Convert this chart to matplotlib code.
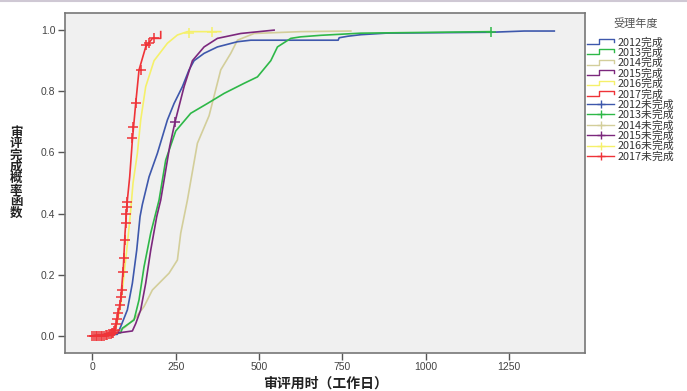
import matplotlib
matplotlib.use("Agg")
import matplotlib.pyplot as plt
from matplotlib.lines import Line2D
from matplotlib.legend_handler import HandlerBase

plt.rcParams['font.family'] = ['Noto Sans CJK SC', 'DejaVu Sans']

# ---- data ----
years = ["2012", "2013", "2014", "2015", "2016", "2017"]
colors = ["#3e58ac", "#2eb848", "#d3ce9a", "#7c287d", "#f5f06a", "#ef3338"]

x2012 = [0, 75, 85, 105, 120, 133, 143, 150, 170, 195, 225, 245, 270, 290, 305, 335, 375, 435, 475, 737, 740, 766, 805, 880, 1196, 1295, 1385]
y2012 = [0, 0.005, 0.03, 0.085, 0.172, 0.28, 0.39, 0.43, 0.52, 0.597, 0.706, 0.76, 0.815, 0.87, 0.90, 0.924, 0.945, 0.962, 0.967, 0.967, 0.975, 0.98, 0.985, 0.99, 0.993, 0.997, 0.997]

x2013 = [0, 85, 90, 125, 140, 155, 175, 200, 220, 250, 295, 345, 395, 455, 495, 535, 555, 595, 625, 685, 805, 1194]
y2013 = [0, 0.01, 0.025, 0.052, 0.118, 0.226, 0.336, 0.444, 0.575, 0.67, 0.728, 0.76, 0.793, 0.826, 0.847, 0.90, 0.945, 0.973, 0.978, 0.983, 0.99, 0.995]

x2014 = [0, 60, 100, 130, 155, 180, 230, 255, 265, 285, 315, 350, 385, 415, 435, 485, 625, 775]
y2014 = [0, 0.0, 0.03, 0.06, 0.096, 0.15, 0.205, 0.248, 0.336, 0.444, 0.63, 0.72, 0.87, 0.924, 0.967, 0.989, 0.995, 0.997]

x2015 = [0, 80, 120, 130, 145, 160, 175, 193, 205, 232, 248, 275, 300, 335, 375, 445, 545]
y2015 = [0, 0.01, 0.016, 0.04, 0.085, 0.172, 0.28, 0.39, 0.444, 0.62, 0.70, 0.815, 0.90, 0.945, 0.973, 0.989, 1.0]

x2016 = [0, 60, 72, 85, 95, 105, 115, 122, 135, 145, 160, 185, 225, 255, 285, 385]
y2016 = [0, 0.003, 0.03, 0.10, 0.20, 0.30, 0.41, 0.50, 0.597, 0.706, 0.815, 0.90, 0.957, 0.984, 0.995, 0.995]

x2017 = [-5, 60, 70, 85, 93, 98, 105, 112, 120, 130, 140, 160, 180, 205, 205]
y2017 = [0, 0.003, 0.03, 0.118, 0.226, 0.336, 0.444, 0.52, 0.64, 0.76, 0.87, 0.945, 0.973, 0.973, 0.995]

# censored observations (未完成)
cx2013 = [1194]
cy2013 = [0.995]
cx2015 = [248]
cy2015 = [0.70]
cx2016 = [290, 360]
cy2016 = [0.992, 0.995]
cx2017 = [0, 5, 10, 15, 20, 25, 30, 35, 40, 45, 50, 55, 60, 63, 66, 68, 72, 75, 78, 82, 86, 88, 92, 94, 97, 100, 102, 104, 105, 120, 123, 130, 145, 160, 170, 185]
cy2017 = [0, 0, 0, 0, 0, 0, 0, 0, 0.003, 0.003, 0.005, 0.005, 0.008, 0.01, 0.015, 0.02, 0.04, 0.055, 0.074, 0.1, 0.128, 0.15, 0.21, 0.254, 0.314, 0.368, 0.40, 0.42, 0.439, 0.646, 0.684, 0.76, 0.87, 0.95, 0.958, 0.975]

xticks = [0, 250, 500, 750, 1000, 1250]
yticks = [0.0, 0.2, 0.4, 0.6, 0.8, 1.0]

title_legend = "受理年度"
xlabel = "审评用时（工作日）"
ylabel = "审评完成概率函数"

# ---- figure ----
fig = plt.figure(figsize=(6.87, 3.91), dpi=100)
ax = fig.add_axes([0.0946, 0.098, 0.7569, 0.868])
ax.set_facecolor("#f0f0f0")

curves = [(x2012, y2012), (x2013, y2013), (x2014, y2014), (x2015, y2015), (x2016, y2016), (x2017, y2017)]
zorders = [3, 3, 2, 3, 4, 5]
for (xs, ys), c, z in zip(curves, colors, zorders):
    ax.plot(xs, ys, color=c, lw=1.2, zorder=z)

cens = {1: (cx2013, cy2013), 3: (cx2015, cy2015), 4: (cx2016, cy2016), 5: (cx2017, cy2017)}
for i, (xs, ys) in cens.items():
    ax.plot(xs, ys, ls="none", marker="+", ms=7, mew=1.1, color=colors[i], zorder=6)

ax.set_xlim(-82, 1477)
ax.set_ylim(-0.055, 1.055)
ax.set_xticks(xticks)
ax.set_xticklabels([str(t) for t in xticks])
ax.set_yticks(yticks)
ax.set_yticklabels([f"{t:.1f}" for t in yticks])
ax.tick_params(direction="out", length=5, width=1, color="#555555", labelsize=7.5, labelcolor="#444444", pad=2)
for lab in ax.get_xticklabels() + ax.get_yticklabels():
    lab.set_family(["Liberation Sans", "DejaVu Sans"])
for s in ax.spines.values():
    s.set_color("#777777")
    s.set_linewidth(1.2)

ax.set_xlabel(xlabel, fontsize=10, fontweight="bold", color="#222222", labelpad=3)
fig.text(16 / 687, 1 - 173 / 391, "\n".join(ylabel), fontsize=9, fontweight="bold",
         color="#222222", ha="center", va="center", linespacing=0.86)

# top border line of the image
fig.add_artist(Line2D([0, 1], [0.997, 0.997], transform=fig.transFigure, color="#cfc8d4", lw=1.5))


class StepHandler(HandlerBase):
    def create_artists(self, legend, orig_handle, xdescent, ydescent, width, height, fontsize, trans):
        x0 = -xdescent
        y0 = -ydescent
        xs = [x0, x0 + 0.45 * width, x0 + 0.45 * width, x0 + width, x0 + width]
        ys = [y0 + 0.2 * height, y0 + 0.2 * height, y0 + 0.85 * height, y0 + 0.85 * height, y0 + 0.45 * height]
        ln = Line2D(xs, ys, color=orig_handle.get_color(), lw=1.0, transform=trans)
        return [ln]


handles = []
labels = []
hmap = {}
for y, c in zip(years, colors):
    h = Line2D([], [], color=c, lw=1.0)
    handles.append(h)
    labels.append(y + "完成")
    hmap[h] = StepHandler()
for y, c in zip(years, colors):
    h = Line2D([], [], color=c, lw=1.0, marker="+", ms=6, mew=1.0)
    handles.append(h)
    labels.append(y + "未完成")

fig.text(636 / 687, 1 - 24 / 391, title_legend, fontsize=8, color="#555555", ha="center", va="center")

leg = fig.legend(handles, labels, handler_map=hmap, loc="upper left",
                 bbox_to_anchor=(587 / 687, 1 - 37 / 391), frameon=False,
                 fontsize=7.8, handlelength=2.5, handletextpad=0.3, labelspacing=0.0,
                 borderaxespad=0, borderpad=0.0, numpoints=1)
for t in leg.get_texts():
    t.set_color("#333333")

fig.savefig("out.png", dpi=100)
